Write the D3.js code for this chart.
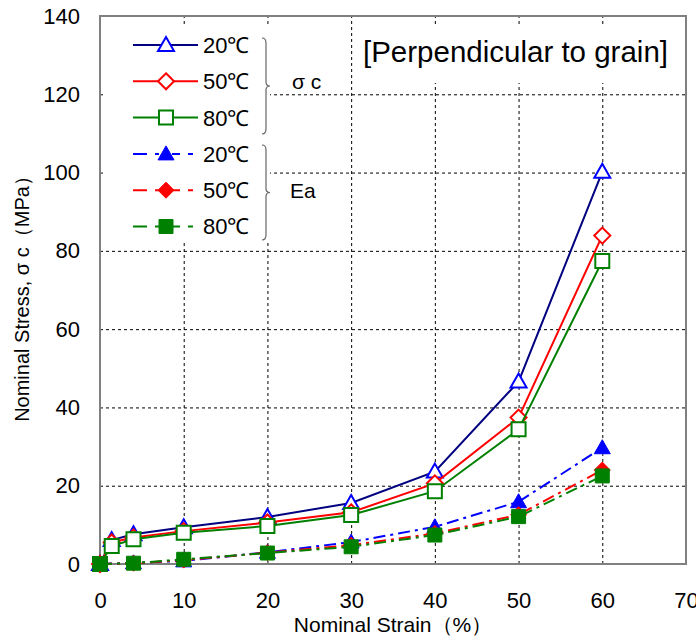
<!DOCTYPE html>
<html>
<head>
<meta charset="utf-8">
<script src="https://cdn.jsdelivr.net/npm/d3@7"></script>
<style>
  body { margin: 0; background: #fff; }
  text { font-family: "Liberation Sans", Arial, sans-serif; fill: #000; }
  .tick text { font-family: "Liberation Sans Narrow", "Liberation Sans", sans-serif; font-size: 22px; }
</style>
</head>
<body>
<svg width="696" height="640"></svg>
<script>
const svg = d3.select('svg');

// strain (%) for each series
const strainSc = [0, 1.4, 4, 10, 20, 30, 40, 50, 60];
const strainEa = [0, 4, 10, 20, 30, 40, 50, 60];

// nominal stress sigma c (MPa)
const sc20 = [0, 6.1, 7.6, 9.4, 12.0, 15.6, 23.6, 46.6, 100.2];
const sc50 = [0, 5.5, 6.8, 8.4, 10.6, 13.2, 20.6, 37.4, 83.9];
const sc80 = [0, 4.6, 6.3, 8.0, 9.7, 12.5, 18.6, 34.4, 77.4];

// Ea
const ea20 = [0, 0.3, 0.8, 3.0, 5.6, 9.5, 15.9, 29.7];
const ea50 = [0, 0.2, 1.0, 2.9, 4.8, 7.8, 12.6, 24.0];
const ea80 = [0, 0.2, 1.2, 2.8, 4.4, 7.4, 12.1, 22.5];

const xTicks = [0, 10, 20, 30, 40, 50, 60, 70];
const yTicks = [0, 20, 40, 60, 80, 100, 120, 140];
const legendLabels = ['20℃', '50℃', '80℃', '20℃', '50℃', '80℃'];

const margin = { top: 16, right: 10, bottom: 76, left: 100 };
const width = 696, height = 640;
const innerWidth = width - margin.left - margin.right;
const innerHeight = height - margin.top - margin.bottom;

const xScale = d3.scaleLinear().domain([0, 70]).range([0, innerWidth]);
const yScale = d3.scaleLinear().domain([0, 140]).range([innerHeight, 0]);

const g = svg.append('g')
  .attr('transform', `translate(${margin.left}, ${margin.top})`);

// grid
const xAxis = d3.axisBottom(xScale).tickValues(xTicks).tickSize(-innerHeight).tickPadding(28);
const xAxisGroup = g.append('g').attr('transform', `translate(0, ${innerHeight})`).call(xAxis);
xAxisGroup.selectAll('.domain').remove();
xAxisGroup.selectAll('line')
  .attr('stroke', '#000').attr('stroke-dasharray', '3,3');

const yAxis = d3.axisLeft(yScale).tickValues(yTicks).tickSize(-innerWidth).tickPadding(20);
const yAxisGroup = g.append('g').call(yAxis);
yAxisGroup.selectAll('.domain').remove();
yAxisGroup.selectAll('line')
  .attr('stroke', '#000').attr('stroke-dasharray', '3,3');

// white boxes behind legend and title
g.append('rect').attr('x', 5).attr('y', 10).attr('width', 165).attr('height', 217).attr('fill', '#fff');
g.append('rect').attr('x', 255).attr('y', 11).attr('width', 318).attr('height', 56).attr('fill', '#fff');

// frame
g.append('rect')
  .attr('width', innerWidth).attr('height', innerHeight)
  .attr('fill', 'none').attr('stroke', '#808080').attr('stroke-width', 2);

const series = [
  { x: strainSc, y: sc20, line: '#000080', mark: '#0000ff', shape: 'tri', filled: false, dash: null },
  { x: strainSc, y: sc50, line: '#ff0000', mark: '#ff0000', shape: 'dia', filled: false, dash: null },
  { x: strainSc, y: sc80, line: '#008000', mark: '#008000', shape: 'sq', filled: false, dash: null },
  { x: strainEa, y: ea20, line: '#0000ff', mark: '#0000ff', shape: 'tri', filled: true, dash: '12,5,3,5' },
  { x: strainEa, y: ea50, line: '#ff0000', mark: '#ff0000', shape: 'dia', filled: true, dash: '12,5,3,5' },
  { x: strainEa, y: ea80, line: '#008000', mark: '#008000', shape: 'sq', filled: true, dash: '12,5,3,5' },
];

const markPath = shape => {
  if (shape === 'tri') return 'M0,-8L8,6L-8,6Z';
  if (shape === 'dia') return 'M0,-8L8,0L0,8L-8,0Z';
  return 'M-7,-7L7,-7L7,7L-7,7Z';
};

const lineGenerator = d3.line()
  .x(d => xScale(d[0]))
  .y(d => yScale(d[1]));

series.forEach(s => {
  const pts = s.x.map((v, i) => [v, s.y[i]]);
  g.append('path')
    .attr('d', lineGenerator(pts))
    .attr('fill', 'none')
    .attr('stroke', s.line)
    .attr('stroke-width', 2)
    .attr('stroke-dasharray', s.dash);
  g.selectAll(null).data(pts).enter().append('path')
    .attr('transform', d => `translate(${xScale(d[0])}, ${yScale(d[1])})`)
    .attr('d', markPath(s.shape))
    .attr('fill', s.filled ? s.mark : '#fff')
    .attr('stroke', s.mark)
    .attr('stroke-width', s.filled ? 1 : 2);
});

// legend
const legend = g.append('g').attr('transform', 'translate(33, 29)');
series.forEach((s, i) => {
  const row = legend.append('g').attr('transform', `translate(0, ${i * 36.3})`);
  row.append('line')
    .attr('x1', 0).attr('x2', 65)
    .attr('stroke', s.line).attr('stroke-width', 2)
    .attr('stroke-dasharray', s.filled ? '14,8,4,13,8,8,5,10' : null);
  row.append('path')
    .attr('transform', 'translate(33, 0)')
    .attr('d', markPath(s.shape))
    .attr('fill', s.filled ? s.mark : '#fff')
    .attr('stroke', s.mark)
    .attr('stroke-width', s.filled ? 1 : 2);
  row.append('text')
    .attr('x', 70).attr('dy', '0.36em')
    .style('font-size', '22px')
    .text(legendLabels[i]);
});

// braces
const brace = (y0, y1, x) => {
  const m = (y0 + y1) / 2;
  return `M${x - 4},${y0} Q${x},${y0} ${x},${y0 + 5} L${x},${m - 4} Q${x},${m} ${x + 4},${m}`
    + ` Q${x},${m} ${x},${m + 4} L${x},${y1 - 5} Q${x},${y1} ${x - 4},${y1}`;
};
g.append('path').attr('d', brace(22, 118, 166))
  .attr('fill', 'none').attr('stroke', '#666').attr('stroke-width', 1.2);
g.append('path').attr('d', brace(129, 224, 166))
  .attr('fill', 'none').attr('stroke', '#666').attr('stroke-width', 1.2);
g.append('text').attr('x', 192).attr('y', 73).style('font-size', '21px').text('σ c');
g.append('text').attr('x', 190).attr('y', 182).style('font-size', '21px').text('Ea');

// title
g.append('text')
  .attr('x', 263).attr('y', 46)
  .style('font-size', '29.5px')
  .text('[Perpendicular to grain]');

// axis labels
svg.append('text')
  .attr('x', 393).attr('y', 632)
  .style('text-anchor', 'middle').style('font-size', '21px')
  .text('Nominal Strain（%）');
svg.append('text')
  .attr('transform', 'translate(29, 294) rotate(-90)')
  .style('text-anchor', 'middle').style('font-size', '20px')
  .text('Nominal Stress, σ c（MPa）');
</script>
</body>
</html>
